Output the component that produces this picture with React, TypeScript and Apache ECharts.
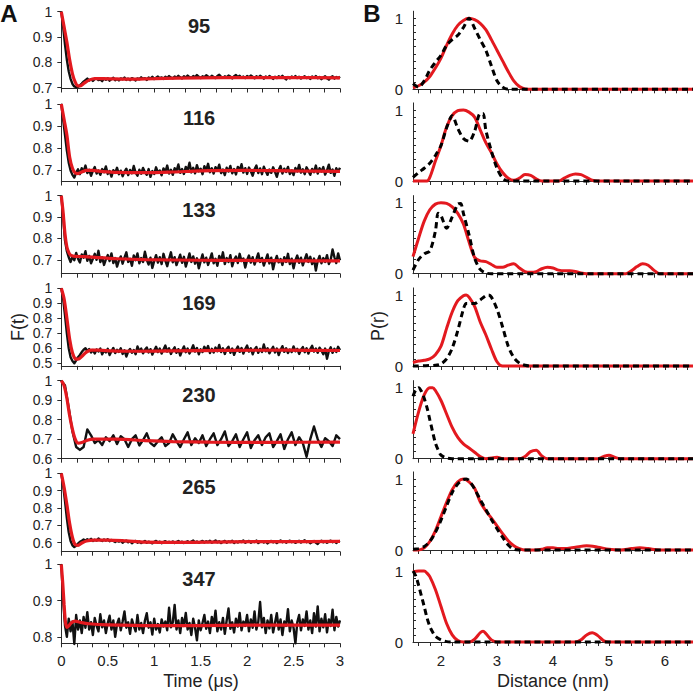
import React, { useEffect, useRef } from "react";
import * as echarts from "echarts";

// ---------- data ----------
const rowTitles = ["95", "116", "133", "169", "230", "265", "347"];
// the measured traces are sampled uniformly over 0..3 µs

const leftYMin = [0.697, 0.65, 0.635, 0.483, 0.6, 0.548, 0.782];
const leftYLabels = [
  [1, 0.9, 0.8, 0.7],
  [1, 0.9, 0.8, 0.7],
  [1, 0.9, 0.8, 0.7],
  [1, 0.9, 0.8, 0.7, 0.6, 0.5],
  [1, 0.9, 0.8, 0.7, 0.6],
  [1, 0.9, 0.8, 0.7, 0.6],
  [1, 0.9, 0.8],
];
const distLabels = [2, 3, 4, 5, 6];
const distTicks = [1.6, 1.8, 2, 2.2, 2.4, 2.6, 2.8, 3, 3.2, 3.4, 3.6, 3.8, 4, 4.2, 4.4, 4.6, 4.8, 5, 5.2, 5.4, 5.6, 5.8, 6, 6.2, 6.4];
const prYLabels = [0, 1];
const prYTicks = [0, 0.1, 0.2, 0.3, 0.4, 0.5, 0.6, 0.7, 0.8, 0.9, 1];

// measured F(t) traces
const data95 = [
  1.0, 0.94, 0.87, 0.81, 0.765, 0.735, 0.715, 0.705, 0.702, 0.704, 0.709,
  0.716, 0.724, 0.73, 0.736, 0.729, 0.734, 0.727, 0.735, 0.738, 0.73,
  0.733, 0.726, 0.736, 0.731, 0.737, 0.728, 0.734, 0.739, 0.73, 0.735,
  0.729, 0.737, 0.733, 0.74, 0.731, 0.736, 0.73, 0.738, 0.734, 0.729,
  0.737, 0.733, 0.741, 0.735, 0.738, 0.731, 0.74, 0.736, 0.743, 0.734,
  0.739, 0.744, 0.737, 0.741, 0.735, 0.743, 0.738, 0.746, 0.74, 0.737,
  0.744, 0.739, 0.747, 0.741, 0.736, 0.745, 0.74, 0.748, 0.742, 0.739,
  0.746, 0.741, 0.75, 0.743, 0.738, 0.745, 0.741, 0.749, 0.744, 0.74,
  0.747, 0.742, 0.738, 0.746, 0.751, 0.743, 0.739, 0.745, 0.741, 0.748,
  0.744, 0.737, 0.745, 0.75, 0.742, 0.747, 0.74, 0.744, 0.738, 0.746,
  0.741, 0.748, 0.743, 0.737, 0.745, 0.74, 0.747, 0.742, 0.736, 0.744,
  0.739, 0.746, 0.741, 0.735, 0.743, 0.738, 0.745, 0.74, 0.747, 0.739,
  0.733, 0.742, 0.737, 0.744, 0.739, 0.746, 0.738, 0.743, 0.736, 0.741,
  0.745, 0.738, 0.742, 0.735, 0.744, 0.739, 0.746, 0.737, 0.742, 0.734,
  0.74, 0.745, 0.737, 0.732, 0.741, 0.745, 0.736, 0.742, 0.738, 0.744,
];
const data116 = [
  1.0, 0.93, 0.86, 0.79, 0.735, 0.7, 0.68, 0.668, 0.69, 0.705, 0.683,
  0.71, 0.695, 0.722, 0.688, 0.703, 0.676, 0.698, 0.715, 0.686, 0.7,
  0.68, 0.706, 0.692, 0.718, 0.684, 0.697, 0.672, 0.701, 0.689, 0.712,
  0.683, 0.699, 0.674, 0.694, 0.708, 0.679, 0.702, 0.687, 0.72, 0.69,
  0.676, 0.703, 0.685, 0.711, 0.693, 0.68, 0.706, 0.671, 0.697, 0.684,
  0.714, 0.69, 0.7, 0.678, 0.709, 0.694, 0.722, 0.686, 0.703, 0.68,
  0.71, 0.697, 0.727, 0.689, 0.706, 0.684, 0.716, 0.7, 0.735, 0.691,
  0.712, 0.687, 0.724, 0.696, 0.708, 0.683, 0.719, 0.701, 0.73, 0.692,
  0.71, 0.686, 0.715, 0.698, 0.726, 0.688, 0.704, 0.679, 0.712, 0.695,
  0.72, 0.687, 0.706, 0.682, 0.716, 0.699, 0.728, 0.69, 0.71, 0.684,
  0.713, 0.696, 0.676, 0.705, 0.722, 0.688, 0.709, 0.683, 0.717, 0.697,
  0.68, 0.704, 0.689, 0.714, 0.694, 0.671, 0.702, 0.72, 0.686, 0.708,
  0.693, 0.716, 0.684, 0.7, 0.679, 0.711, 0.695, 0.725, 0.69, 0.705,
  0.683, 0.714, 0.698, 0.68, 0.707, 0.692, 0.722, 0.686, 0.71, 0.695,
  0.715, 0.681, 0.7, 0.726, 0.689, 0.704, 0.676, 0.71, 0.695, 0.712,
];
const data133 = [
  1.0, 0.9, 0.79, 0.74, 0.712, 0.69, 0.715, 0.698, 0.732, 0.705, 0.688,
  0.725, 0.71, 0.74, 0.695, 0.718, 0.684, 0.705, 0.728, 0.7, 0.742,
  0.69, 0.712, 0.676, 0.702, 0.722, 0.694, 0.73, 0.685, 0.708, 0.668,
  0.697, 0.716, 0.682, 0.71, 0.735, 0.69, 0.705, 0.672, 0.72, 0.698,
  0.73, 0.684, 0.708, 0.69, 0.738, 0.7, 0.678, 0.71, 0.662, 0.695,
  0.722, 0.687, 0.712, 0.68, 0.728, 0.696, 0.67, 0.705, 0.735, 0.688,
  0.712, 0.675, 0.7, 0.724, 0.686, 0.714, 0.668, 0.698, 0.73, 0.69,
  0.716, 0.682, 0.707, 0.66, 0.694, 0.725, 0.688, 0.71, 0.676, 0.702,
  0.73, 0.684, 0.705, 0.672, 0.718, 0.695, 0.735, 0.68, 0.708, 0.69,
  0.722, 0.67, 0.7, 0.715, 0.685, 0.728, 0.694, 0.706, 0.664, 0.698,
  0.72, 0.687, 0.712, 0.678, 0.703, 0.73, 0.69, 0.709, 0.673, 0.7,
  0.725, 0.683, 0.71, 0.656, 0.694, 0.718, 0.688, 0.704, 0.676, 0.712,
  0.69, 0.728, 0.68, 0.705, 0.66, 0.698, 0.72, 0.686, 0.71, 0.674,
  0.702, 0.726, 0.69, 0.714, 0.68, 0.706, 0.65, 0.695, 0.718, 0.684,
  0.708, 0.69, 0.722, 0.68, 0.7, 0.748, 0.712, 0.685, 0.73, 0.698,
];
const data169 = [
  1.0, 0.93, 0.82, 0.7, 0.6, 0.54, 0.515, 0.5, 0.52, 0.54, 0.555,
  0.575, 0.59, 0.6, 0.582, 0.595, 0.572, 0.588, 0.565, 0.592, 0.578,
  0.598, 0.56, 0.585, 0.572, 0.596, 0.555, 0.58, 0.602, 0.568, 0.59,
  0.576, 0.6, 0.562, 0.587, 0.545, 0.578, 0.595, 0.57, 0.588, 0.56,
  0.612, 0.58, 0.598, 0.566, 0.59, 0.605, 0.572, 0.594, 0.558, 0.585,
  0.61, 0.575, 0.598, 0.565, 0.592, 0.618, 0.578, 0.6, 0.562, 0.588,
  0.606, 0.57, 0.594, 0.552, 0.585, 0.612, 0.574, 0.598, 0.565, 0.59,
  0.62, 0.578, 0.602, 0.56, 0.593, 0.575, 0.61, 0.585, 0.615, 0.568,
  0.596, 0.572, 0.605, 0.58, 0.622, 0.575, 0.6, 0.562, 0.595, 0.61,
  0.57, 0.598, 0.556, 0.588, 0.612, 0.576, 0.602, 0.565, 0.595, 0.618,
  0.578, 0.6, 0.56, 0.592, 0.608, 0.57, 0.596, 0.575, 0.625, 0.58,
  0.6, 0.566, 0.59, 0.61, 0.572, 0.598, 0.555, 0.588, 0.614, 0.576,
  0.6, 0.568, 0.592, 0.575, 0.612, 0.58, 0.596, 0.562, 0.59, 0.608,
  0.574, 0.6, 0.565, 0.594, 0.616, 0.578, 0.598, 0.57, 0.604, 0.585,
  0.56, 0.598, 0.53, 0.582, 0.606, 0.57, 0.596, 0.575, 0.61, 0.588,
];
const data230 = [1.0, 0.975, 0.86, 0.74, 0.66, 0.645, 0.66, 0.75, 0.72, 0.68, 0.695, 0.67, 0.71, 0.69, 0.72, 0.675, 0.715, 0.7, 0.66, 0.7, 0.72, 0.668, 0.695, 0.73, 0.68, 0.665, 0.69, 0.71, 0.665, 0.68, 0.725, 0.69, 0.66, 0.7, 0.735, 0.67, 0.705, 0.68, 0.72, 0.665, 0.7, 0.73, 0.67, 0.7, 0.74, 0.665, 0.69, 0.725, 0.66, 0.7, 0.735, 0.655, 0.695, 0.72, 0.67, 0.71, 0.73, 0.66, 0.69, 0.725, 0.65, 0.7, 0.735, 0.67, 0.71, 0.68, 0.61, 0.7, 0.765, 0.7, 0.66, 0.705, 0.69, 0.665, 0.72, 0.7];
const data265 = [
  1.0, 0.93, 0.84, 0.74, 0.66, 0.61, 0.585, 0.575, 0.582, 0.595, 0.605,
  0.61, 0.618, 0.612, 0.62, 0.614, 0.622, 0.61, 0.617, 0.612, 0.624,
  0.615, 0.61, 0.618, 0.612, 0.62, 0.608, 0.615, 0.61, 0.604, 0.612,
  0.606, 0.613, 0.6, 0.608, 0.611, 0.602, 0.609, 0.597, 0.605, 0.61,
  0.6, 0.607, 0.598, 0.604, 0.61, 0.599, 0.606, 0.601, 0.596, 0.605,
  0.61, 0.6, 0.606, 0.597, 0.603, 0.609, 0.599, 0.605, 0.6, 0.607,
  0.598, 0.604, 0.61, 0.601, 0.606, 0.598, 0.603, 0.608, 0.6, 0.606,
  0.612, 0.602, 0.607, 0.599, 0.605, 0.61, 0.601, 0.608, 0.603, 0.611,
  0.6, 0.606, 0.613, 0.602, 0.608, 0.598, 0.605, 0.61, 0.6, 0.607,
  0.603, 0.611, 0.598, 0.606, 0.601, 0.609, 0.604, 0.613, 0.6, 0.606,
  0.61, 0.6, 0.607, 0.603, 0.612, 0.598, 0.605, 0.609, 0.601, 0.607,
  0.596, 0.605, 0.61, 0.602, 0.608, 0.598, 0.606, 0.613, 0.603, 0.609,
  0.6, 0.607, 0.612, 0.603, 0.608, 0.599, 0.605, 0.611, 0.601, 0.608,
  0.614, 0.603, 0.609, 0.597, 0.604, 0.61, 0.6, 0.593, 0.605, 0.611,
  0.602, 0.608, 0.6, 0.606, 0.612, 0.603, 0.609, 0.598, 0.606, 0.61,
];
const data347 = [
  1.0, 0.9, 0.83, 0.8, 0.85, 0.815, 0.842, 0.78, 0.86, 0.82, 0.845,
  0.81, 0.855, 0.825, 0.868, 0.82, 0.84, 0.805, 0.852, 0.83, 0.815,
  0.862, 0.826, 0.845, 0.81, 0.838, 0.858, 0.82, 0.845, 0.8, 0.835,
  0.85, 0.818, 0.842, 0.87, 0.825, 0.84, 0.808, 0.848, 0.83, 0.815,
  0.86, 0.82, 0.838, 0.81, 0.845, 0.865, 0.825, 0.84, 0.806, 0.85,
  0.82, 0.835, 0.812, 0.848, 0.828, 0.842, 0.818, 0.88, 0.826, 0.84,
  0.888, 0.82, 0.845, 0.81, 0.852, 0.83, 0.866, 0.82, 0.838, 0.805,
  0.85, 0.825, 0.79, 0.845, 0.818, 0.838, 0.86, 0.822, 0.842, 0.81,
  0.855, 0.83, 0.872, 0.815, 0.84, 0.82, 0.852, 0.808, 0.845, 0.878,
  0.822, 0.84, 0.812, 0.85, 0.828, 0.866, 0.818, 0.842, 0.83, 0.86,
  0.815, 0.848, 0.825, 0.87, 0.82, 0.84, 0.896, 0.826, 0.852, 0.81,
  0.845, 0.823, 0.86, 0.812, 0.838, 0.865, 0.82, 0.848, 0.805, 0.842,
  0.83, 0.876, 0.815, 0.845, 0.825, 0.782, 0.84, 0.86, 0.818, 0.848,
  0.83, 0.87, 0.82, 0.845, 0.81, 0.865, 0.828, 0.884, 0.815, 0.85,
  0.826, 0.862, 0.812, 0.848, 0.83, 0.875, 0.818, 0.855, 0.828, 0.845,
];

// fitted F(t) curves [t, F]
const fit95 = [[0, 1], [0.03, 0.94], [0.06, 0.88], [0.09, 0.81], [0.12, 0.755], [0.15, 0.722], [0.18, 0.707], [0.21, 0.708], [0.25, 0.719], [0.3, 0.73], [0.36, 0.736], [0.45, 0.736], [0.7, 0.734], [1.0, 0.736], [1.5, 0.739], [2.0, 0.74], [2.5, 0.74], [3.0, 0.739]];
const fit116 = [[0, 1], [0.03, 0.93], [0.06, 0.86], [0.09, 0.76], [0.12, 0.71], [0.15, 0.688], [0.18, 0.686], [0.22, 0.693], [0.27, 0.7], [0.33, 0.7], [0.45, 0.695], [0.6, 0.691], [0.9, 0.69], [1.2, 0.693], [1.5, 0.698], [2.0, 0.7], [2.5, 0.698], [3.0, 0.696]];
const fit133 = [[0, 1], [0.02, 0.92], [0.04, 0.82], [0.06, 0.76], [0.08, 0.735], [0.1, 0.722], [0.15, 0.716], [0.25, 0.715], [0.4, 0.71], [0.6, 0.705], [0.9, 0.701], [1.5, 0.698], [2.0, 0.697], [2.5, 0.695], [3.0, 0.695]];
const fit169 = [[0, 1], [0.03, 0.93], [0.06, 0.8], [0.09, 0.66], [0.12, 0.57], [0.15, 0.53], [0.18, 0.527], [0.22, 0.545], [0.27, 0.574], [0.32, 0.588], [0.4, 0.588], [0.55, 0.582], [0.8, 0.58], [1.2, 0.582], [1.8, 0.586], [2.4, 0.587], [3.0, 0.585]];
const fit230 = [[0, 1], [0.03, 0.975], [0.06, 0.91], [0.09, 0.82], [0.12, 0.75], [0.15, 0.7], [0.18, 0.68], [0.22, 0.683], [0.28, 0.695], [0.35, 0.7], [0.6, 0.7], [0.9, 0.693], [1.2, 0.688], [1.6, 0.685], [2.2, 0.684], [3.0, 0.685]];
const fit265 = [[0, 1], [0.03, 0.92], [0.06, 0.82], [0.09, 0.71], [0.12, 0.63], [0.15, 0.588], [0.18, 0.585], [0.22, 0.598], [0.27, 0.61], [0.35, 0.615], [0.5, 0.615], [0.7, 0.61], [0.9, 0.603], [1.3, 0.602], [1.8, 0.605], [2.4, 0.606], [3.0, 0.607]];
const fit347 = [[0, 1], [0.015, 0.95], [0.03, 0.89], [0.045, 0.84], [0.06, 0.826], [0.08, 0.83], [0.11, 0.839], [0.15, 0.843], [0.2, 0.84], [0.3, 0.836], [0.5, 0.833], [1.0, 0.831], [1.5, 0.831], [2.0, 0.832], [2.5, 0.832], [3.0, 0.832]];

// distance distributions [r (nm), P]
const pr95Fit = [[1.5, 0.02], [1.6, 0.05], [1.7, 0.1], [1.8, 0.18], [1.9, 0.3], [2.0, 0.44], [2.1, 0.62], [2.2, 0.78], [2.3, 0.9], [2.4, 0.97], [2.5, 1.0], [2.6, 0.98], [2.7, 0.93], [2.8, 0.84], [2.9, 0.7], [3.0, 0.55], [3.1, 0.4], [3.2, 0.25], [3.3, 0.12], [3.4, 0.04], [3.5, 0.005], [3.6, 0], [6.5, 0]];
const pr95Model = [[1.5, 0.08], [1.55, 0.05], [1.6, 0.03], [1.7, 0.12], [1.8, 0.27], [1.9, 0.38], [2.0, 0.48], [2.1, 0.62], [2.2, 0.7], [2.3, 0.76], [2.4, 0.87], [2.5, 1.0], [2.6, 0.86], [2.7, 0.7], [2.8, 0.55], [2.9, 0.33], [3.0, 0.12], [3.1, 0.03], [3.2, 0], [6.5, 0]];
const pr116Fit = [[1.5, 0], [1.75, 0], [1.8, 0.05], [1.9, 0.28], [2.0, 0.5], [2.1, 0.76], [2.2, 0.92], [2.3, 0.99], [2.4, 1.0], [2.5, 0.97], [2.6, 0.9], [2.7, 0.72], [2.8, 0.54], [2.9, 0.4], [3.0, 0.24], [3.1, 0.12], [3.2, 0.04], [3.3, 0.01], [3.4, 0.04], [3.5, 0.09], [3.6, 0.08], [3.7, 0.03], [3.8, 0], [4.1, 0], [4.2, 0.04], [4.3, 0.08], [4.4, 0.1], [4.5, 0.09], [4.6, 0.05], [4.7, 0.01], [4.8, 0], [6.5, 0]];
const pr116Model = [[1.5, 0.05], [1.6, 0.12], [1.7, 0.18], [1.8, 0.25], [1.9, 0.36], [2.0, 0.5], [2.1, 0.75], [2.2, 0.92], [2.3, 0.74], [2.4, 0.6], [2.5, 0.56], [2.6, 0.7], [2.7, 0.95], [2.75, 0.95], [2.8, 0.72], [2.9, 0.42], [3.0, 0.18], [3.1, 0.04], [3.2, 0], [6.5, 0]];
const pr133Fit = [[1.5, 0.24], [1.6, 0.5], [1.7, 0.74], [1.8, 0.9], [1.9, 0.98], [2.0, 1.0], [2.1, 0.99], [2.2, 0.94], [2.3, 0.85], [2.4, 0.7], [2.5, 0.45], [2.6, 0.23], [2.7, 0.18], [2.8, 0.17], [2.9, 0.13], [3.0, 0.09], [3.1, 0.09], [3.2, 0.12], [3.3, 0.14], [3.4, 0.08], [3.5, 0.03], [3.6, 0.02], [3.7, 0.03], [3.8, 0.07], [3.9, 0.09], [4.0, 0.08], [4.1, 0.05], [4.2, 0.04], [4.3, 0.04], [4.4, 0.03], [4.5, 0.01], [4.6, 0], [5.3, 0], [5.4, 0.04], [5.5, 0.1], [5.6, 0.14], [5.7, 0.12], [5.8, 0.05], [5.9, 0], [6.5, 0]];
const pr133Model = [[1.5, 0.05], [1.6, 0.2], [1.7, 0.28], [1.8, 0.32], [1.9, 0.6], [1.95, 0.85], [2.0, 0.82], [2.1, 0.64], [2.2, 0.8], [2.3, 0.98], [2.35, 0.99], [2.4, 0.85], [2.5, 0.55], [2.6, 0.22], [2.7, 0.06], [2.8, 0.01], [2.9, 0], [6.5, 0]];
const pr169Fit = [[1.5, 0.05], [1.6, 0.07], [1.7, 0.08], [1.8, 0.1], [1.9, 0.16], [2.0, 0.28], [2.1, 0.53], [2.2, 0.76], [2.3, 0.92], [2.4, 0.99], [2.45, 1.0], [2.5, 0.97], [2.6, 0.84], [2.7, 0.62], [2.8, 0.44], [2.9, 0.24], [3.0, 0.06], [3.1, 0], [6.5, 0]];
const pr169Model = [[1.5, 0], [1.9, 0.01], [2.0, 0.03], [2.1, 0.1], [2.2, 0.25], [2.3, 0.5], [2.4, 0.8], [2.45, 0.88], [2.5, 0.88], [2.6, 0.88], [2.7, 0.93], [2.8, 0.99], [2.85, 1.0], [2.9, 0.97], [3.0, 0.8], [3.1, 0.55], [3.2, 0.28], [3.3, 0.12], [3.4, 0.04], [3.5, 0.01], [3.6, 0], [6.5, 0]];
const pr230Fit = [[1.5, 0.35], [1.6, 0.66], [1.7, 0.9], [1.8, 1.0], [1.85, 1.0], [1.9, 0.96], [2.0, 0.82], [2.1, 0.63], [2.2, 0.44], [2.3, 0.3], [2.4, 0.21], [2.5, 0.15], [2.6, 0.09], [2.7, 0.03], [2.8, 0], [2.9, 0.01], [3.0, 0.02], [3.1, 0], [3.4, 0], [3.5, 0.03], [3.6, 0.1], [3.7, 0.12], [3.8, 0.04], [3.9, 0], [4.8, 0], [4.9, 0.03], [5.0, 0.05], [5.1, 0.02], [5.2, 0], [6.5, 0]];
const pr230Model = [[1.5, 0.88], [1.55, 0.97], [1.6, 1.0], [1.65, 0.95], [1.7, 0.85], [1.75, 0.72], [1.8, 0.55], [1.85, 0.38], [1.9, 0.22], [1.95, 0.12], [2.0, 0.05], [2.1, 0.01], [2.2, 0], [6.5, 0]];
const pr265Fit = [[1.5, 0], [1.6, 0], [1.7, 0.03], [1.8, 0.12], [1.9, 0.27], [2.0, 0.47], [2.1, 0.67], [2.2, 0.85], [2.3, 0.96], [2.4, 1.0], [2.5, 0.96], [2.6, 0.87], [2.7, 0.68], [2.8, 0.55], [2.9, 0.45], [3.0, 0.34], [3.1, 0.23], [3.2, 0.13], [3.3, 0.06], [3.4, 0.02], [3.5, 0], [3.7, 0], [3.8, 0.01], [3.9, 0.03], [4.0, 0.03], [4.1, 0.02], [4.2, 0.02], [4.4, 0.04], [4.6, 0.06], [4.8, 0.04], [5.0, 0.01], [5.2, 0], [5.4, 0.02], [5.55, 0.03], [5.7, 0.02], [5.9, 0], [6.5, 0]];
const pr265Model = [[1.5, 0.01], [1.6, 0.02], [1.7, 0.05], [1.8, 0.12], [1.9, 0.25], [2.0, 0.42], [2.1, 0.62], [2.2, 0.81], [2.3, 0.93], [2.4, 0.99], [2.45, 1.0], [2.5, 0.98], [2.6, 0.86], [2.7, 0.71], [2.8, 0.57], [2.9, 0.43], [3.0, 0.3], [3.1, 0.18], [3.2, 0.07], [3.3, 0.01], [3.4, 0], [6.5, 0]];
const pr347Fit = [[1.5, 0.99], [1.6, 1.0], [1.7, 1.0], [1.75, 0.97], [1.8, 0.92], [1.9, 0.74], [2.0, 0.5], [2.1, 0.26], [2.2, 0.1], [2.3, 0.02], [2.4, 0], [2.5, 0], [2.6, 0.04], [2.7, 0.13], [2.75, 0.15], [2.8, 0.12], [2.9, 0.03], [3.0, 0], [4.4, 0], [4.5, 0.03], [4.6, 0.1], [4.7, 0.13], [4.8, 0.09], [4.9, 0.02], [5.0, 0], [6.5, 0]];
const pr347Model = [[1.5, 1.0], [1.55, 0.93], [1.6, 0.8], [1.65, 0.65], [1.7, 0.5], [1.75, 0.34], [1.8, 0.22], [1.85, 0.14], [1.9, 0.08], [2.0, 0.03], [2.1, 0.005], [2.2, 0], [6.5, 0]];

const traces = [data95, data116, data133, data169, data230, data265, data347];
const fits = [fit95, fit116, fit133, fit169, fit230, fit265, fit347];
const prFits = [pr95Fit, pr116Fit, pr133Fit, pr169Fit, pr230Fit, pr265Fit, pr347Fit];
const prModels = [pr95Model, pr116Model, pr133Model, pr169Model, pr230Model, pr265Model, pr347Model];

// ---------- layout ----------
const LEFT_X = 61.3;
const LEFT_W = 278.7;
const leftTop = [11.7, 104, 195.7, 288.3, 380.7, 473.3, 564.3];
const leftH = [76.8, 77.5, 78, 77.5, 78, 78.4, 79];
const RIGHT_X = 413;
const RIGHT_W = 280;
const rightTop = [11.2, 102.9, 195.6, 287.9, 380.6, 471.9, 563.9];
const RIGHT_H = 78.1;

const FONT = '"Liberation Sans", Arial, Helvetica, sans-serif';
const RED = "#e3191f";
const INK = "#111";
const AXIS = "#2a2a2a";

export default function App() {
  const ref = useRef<HTMLDivElement>(null);

  useEffect(() => {
    if (!ref.current) return;
    const chart = echarts.init(ref.current, undefined, { renderer: "svg" });

    const grid: any[] = [];
    const xAxis: any[] = [];
    const yAxis: any[] = [];
    const series: any[] = [];
    const axisLineStyle = { color: AXIS, width: 1 };
    const labelStyle = { fontSize: 14, color: "#222", fontFamily: FONT };

    for (let i = 0; i < 7; i++) {
      // left panel
      grid.push({ left: LEFT_X, width: LEFT_W, top: leftTop[i], height: leftH[i] });
      const li = 2 * i;
      xAxis.push({
        type: "value", gridIndex: li, min: 0, max: 3, interval: 0.5,
        axisLine: { show: true, lineStyle: axisLineStyle },
        axisTick: { show: true, length: 4, lineStyle: axisLineStyle },
        minorTick: { show: true, splitNumber: 3, length: 4, lineStyle: axisLineStyle },
        axisLabel: { show: i === 6, margin: 10, ...labelStyle, fontSize: 15 },
        splitLine: { show: false },
        minorSplitLine: { show: false },
      });
      yAxis.push({
        type: "value", gridIndex: li, min: leftYMin[i], max: 1,
        axisLine: { show: true, lineStyle: axisLineStyle },
        axisTick: { show: true, length: 4, lineStyle: axisLineStyle, customValues: leftYLabels[i] },
        axisLabel: { show: true, margin: 9, customValues: leftYLabels[i], ...labelStyle },
        splitLine: { show: false },
      });
      const tr = traces[i];
      const step = 3 / (tr.length - 1);
      series.push({
        type: "line", xAxisIndex: li, yAxisIndex: li, showSymbol: false, clip: false,
        data: tr.map((v, k) => [k * step, v]),
        lineStyle: { color: INK, width: 2.4, join: "round" }, itemStyle: { color: INK },
        z: 2,
      });
      series.push({
        type: "line", xAxisIndex: li, yAxisIndex: li, showSymbol: false, clip: false,
        smooth: 0.3,
        data: fits[i],
        lineStyle: { color: RED, width: 3.2 }, itemStyle: { color: RED },
        z: 3,
      });

      // right panel
      grid.push({ left: RIGHT_X, width: RIGHT_W, top: rightTop[i], height: RIGHT_H });
      const ri = 2 * i + 1;
      xAxis.push({
        type: "value", gridIndex: ri, min: 1.5, max: 6.5,
        axisLine: { show: true, lineStyle: axisLineStyle },
        axisTick: { show: true, length: 4, lineStyle: axisLineStyle, customValues: distTicks },
        axisLabel: { show: i === 6, margin: 11, customValues: distLabels, ...labelStyle, fontSize: 15 },
        splitLine: { show: false },
      });
      yAxis.push({
        type: "value", gridIndex: ri, min: 0, max: 1.1,
        axisLine: { show: true, lineStyle: axisLineStyle },
        axisTick: { show: true, inside: true, length: 3, lineStyle: axisLineStyle, customValues: prYTicks },
        axisLabel: { show: true, margin: 10, customValues: prYLabels, ...labelStyle, fontSize: 15 },
        splitLine: { show: false },
      });
      series.push({
        type: "line", xAxisIndex: ri, yAxisIndex: ri, showSymbol: false, clip: false,
        smooth: 0.3,
        data: prFits[i],
        lineStyle: { color: RED, width: 3 }, itemStyle: { color: RED },
        z: 2,
      });
      series.push({
        type: "line", xAxisIndex: ri, yAxisIndex: ri, showSymbol: false, clip: false,
        smooth: 0.3,
        data: prModels[i],
        lineStyle: { color: "#000", width: 3, type: [6, 4] }, itemStyle: { color: "#000" },
        z: 3,
      });
    }

    const graphic: any[] = [
      { type: "text", x: 9, y: 13, style: { text: "A", font: `bold 24px ${FONT}`, fill: "#111", align: "center", verticalAlign: "middle" } },
      { type: "text", x: 372, y: 13, style: { text: "B", font: `bold 24px ${FONT}`, fill: "#111", align: "center", verticalAlign: "middle" } },
      { type: "text", x: 18, y: 327, rotation: Math.PI / 2, style: { text: "F(t)", font: `18px ${FONT}`, fill: "#222", align: "center", verticalAlign: "middle" } },
      { type: "text", x: 378, y: 326, rotation: Math.PI / 2, style: { text: "P(r)", font: `18px ${FONT}`, fill: "#222", align: "center", verticalAlign: "middle" } },
      { type: "text", x: 201, y: 681, style: { text: "Time (\u03bcs)", font: `18px ${FONT}`, fill: "#222", align: "center", verticalAlign: "middle" } },
      { type: "text", x: 553, y: 681, style: { text: "Distance (nm)", font: `18px ${FONT}`, fill: "#222", align: "center", verticalAlign: "middle" } },
    ];
    rowTitles.forEach((t, i) => {
      graphic.push({
        type: "text", x: 199, y: 26 + 92.2 * i,
        style: { text: t, font: `bold 20px ${FONT}`, fill: "#222", align: "center", verticalAlign: "middle" },
      });
    });

    chart.setOption({
      animation: false,
      backgroundColor: "#fff",
      grid, xAxis, yAxis, series, graphic,
    });

    return () => chart.dispose();
  }, []);

  return (
    <div
      ref={ref}
      style={{ position: "absolute", left: 0, top: 0, width: 693, height: 692, background: "#fff" }}
    />
  );
}
